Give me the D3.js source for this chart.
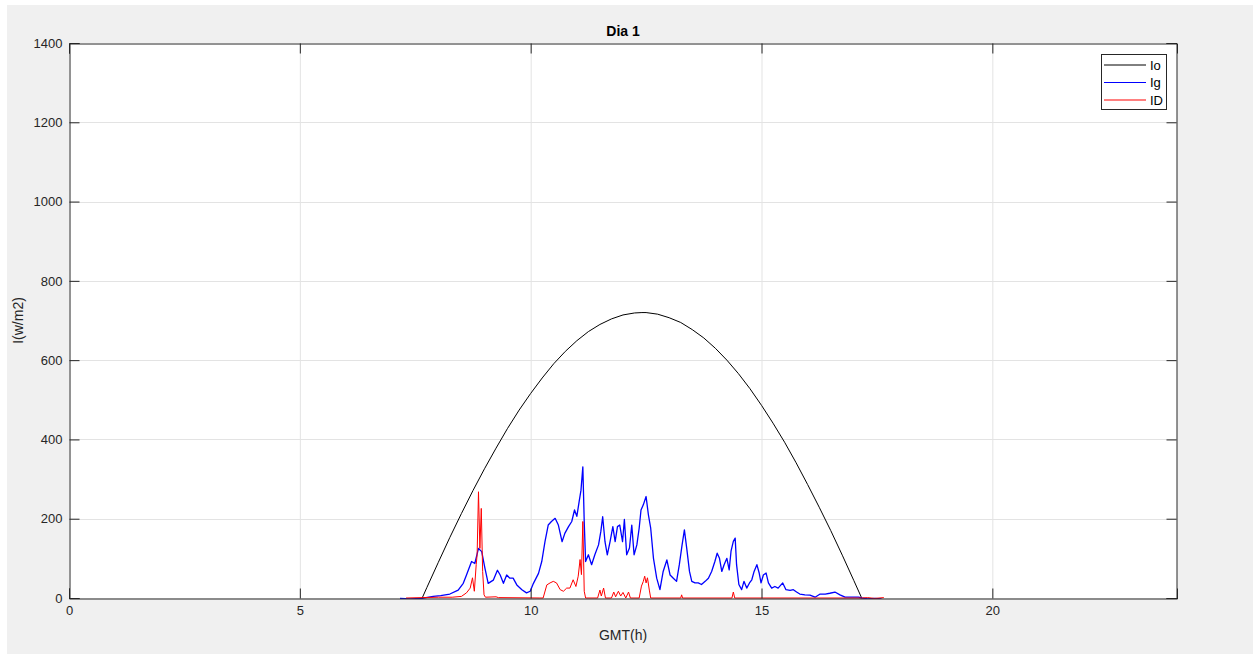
<!DOCTYPE html>
<html>
<head>
<meta charset="utf-8">
<script src="https://cdn.jsdelivr.net/npm/d3@7"></script>
<style>
  html, body { margin: 0; padding: 0; background: #ffffff; }
  svg { display: block; font-family: "Liberation Sans", Arial, Helvetica, sans-serif; }
</style>
</head>
<body>
<svg id="chart" width="1253" height="655"></svg>
<script>
// Tick values
const xTicks = [0, 5, 10, 15, 20];
const yTicks = [0, 200, 400, 600, 800, 1000, 1200, 1400];

// Extraterrestrial irradiance Io (hours GMT, W/m2)
const ioHours = [7.65, 7.75, 8.0, 8.25, 8.5, 8.75, 9.0, 9.25, 9.5, 9.75, 10.0, 10.25, 10.5, 10.75, 11.0, 11.25, 11.5, 11.75, 12.0, 12.25, 12.41, 12.5, 12.75, 13.0, 13.25, 13.5, 13.75, 14.0, 14.25, 14.5, 14.75, 15.0, 15.25, 15.5, 15.75, 16.0, 16.25, 16.5, 16.75, 17.0, 17.17];
const ioValues = [0, 26, 90, 153, 213, 271, 326, 378, 428, 474, 516, 555, 591, 622, 649, 672, 690, 704, 714, 719, 720, 720, 716, 707, 695, 677, 656, 630, 600, 566, 528, 486, 441, 393, 341, 286, 229, 170, 108, 44, 0];

// Global irradiance Ig
const igHours = [7.17, 7.40, 7.64, 7.89, 8.05, 8.25, 8.43, 8.54, 8.61, 8.72, 8.79, 8.87, 8.94, 9.01, 9.08, 9.19, 9.28, 9.34, 9.41, 9.48, 9.55, 9.62, 9.70, 9.81, 9.91, 9.99,
  10.06, 10.17, 10.24, 10.31, 10.38, 10.45, 10.53, 10.60, 10.68, 10.74, 10.82, 10.89, 10.95, 11.00, 11.05, 11.09, 11.13, 11.16, 11.19, 11.25, 11.32, 11.39, 11.47, 11.52, 11.56, 11.61, 11.66, 11.72, 11.78, 11.83, 11.88, 11.93, 11.99,
  12.03, 12.08, 12.14, 12.19, 12.24, 12.30, 12.35, 12.39, 12.44, 12.50, 12.55, 12.60, 12.66, 12.73, 12.80, 12.87, 12.95, 13.02, 13.09, 13.16, 13.22, 13.28, 13.33, 13.38, 13.44, 13.49, 13.56, 13.63, 13.70, 13.78, 13.85, 13.92, 13.99,
  14.04, 14.09, 14.14, 14.19, 14.25, 14.30, 14.34, 14.39, 14.43, 14.46, 14.51, 14.57, 14.62, 14.68, 14.74, 14.79, 14.84, 14.90, 14.95, 14.99, 15.04, 15.10, 15.15, 15.22, 15.29, 15.36, 15.46, 15.53, 15.62, 15.69, 15.76, 15.83, 15.94,
  16.05, 16.16, 16.27, 16.38, 16.48, 16.59, 16.70, 16.81, 16.95, 17.10, 17.17, 17.30, 17.45, 17.60];
const igValues = [-1, -2, -1, 4, 6, 10, 20, 37, 58, 92, 87, 125, 117, 75, 37, 45, 70, 58, 37, 58, 50, 50, 33, 21, 13, 17,
  37, 62, 92, 142, 184, 193, 201, 184, 142, 163, 180, 193, 222, 206, 243, 272, 331, 193, 92, 109, 84, 109, 134, 168, 205, 142, 109, 142, 180, 142, 180, 184, 142,
  198, 109, 126, 184, 109, 134, 176, 222, 235, 256, 210, 176, 100, 50, 21, 67, 96, 58, 50, 42, 84, 134, 172, 126, 67, 42, 38, 38, 34, 42, 50, 67, 92,
  113, 100, 67, 84, 100, 71, 118, 143, 151, 84, 34, 21, 42, 25, 38, 46, 67, 84, 63, 38, 58, 63, 38, 25, 29, 25, 38, 21, 19, 21, 15, 10, 8,
  7, 2, 10, 10, 12, 15, 8, 2, 2, 2, 0, -2, -1, -2];

// Diffuse irradiance ID
const idHours = [7.30, 7.65, 8.00, 8.30, 8.50, 8.61, 8.69, 8.74, 8.78, 8.82, 8.84, 8.87, 8.90, 8.93, 8.96, 8.99, 9.02, 9.25, 9.30,
  10.20, 10.27, 10.35, 10.42, 10.49, 10.56, 10.64, 10.71, 10.78, 10.85, 10.92, 10.98, 11.03, 11.07, 11.10, 11.13, 11.16, 11.19,
  11.45, 11.50, 11.53, 11.58, 11.62, 11.75, 11.80, 11.84, 11.90, 11.95, 12.00, 12.06, 12.12, 12.16,
  12.35, 12.40, 12.44, 12.47, 12.50, 12.53, 12.57, 12.60, 13.25, 13.27, 13.29, 14.36, 14.39, 14.42, 17.17, 17.30, 17.45, 17.65];
const idValues = [0, 1, 2, 2, 4, 13, 25, 51, 17, 84, 109, 268, 125, 226, 67, 8, 2, 3, 1,
  0, 0, 33, 38, 42, 38, 21, 17, 25, 25, 46, 29, 55, 97, 59, 193, 17, 0,
  0, 20, 5, 25, 0, 0, 15, 3, 17, 5, 14, 0, 15, 0,
  0, 30, 42, 55, 38, 51, 20, 0, 0, 8, 0, 0, 15, 0, 0, 1, -1, 1];

const seriesNames = ["Io", "Ig", "ID"];
const seriesColors = ["#000000", "#0000ff", "#ff0000"];
const seriesWidths = [1, 1.3, 1];

const svg = d3.select("#chart");
const W = 1253, H = 655;
const plot = { left: 69, right: 1177, top: 43, bottom: 598 };
const axisColor = "#262626";
const gridColor = "#e3e3e3";

// figure background
svg.append("rect").attr("x", 7).attr("y", 5).attr("width", W - 7).attr("height", 649).attr("fill", "#f0f0f0");
svg.append("rect").attr("x", plot.left).attr("y", plot.top)
  .attr("width", plot.right - plot.left).attr("height", plot.bottom - plot.top).attr("fill", "#ffffff");

const x = d3.scaleLinear().domain([0, 24]).range([plot.left, plot.right]);
const y = d3.scaleLinear().domain([0, 1400]).range([plot.bottom, plot.top]);

// grid
const grid = svg.append("g");
grid.selectAll("line.gx").data(xTicks.filter(d => d > 0)).join("line")
  .attr("x1", d => x(d) + 0.5).attr("x2", d => x(d) + 0.5)
  .attr("y1", plot.top).attr("y2", plot.bottom)
  .attr("stroke", gridColor).attr("stroke-width", 1);
grid.selectAll("line.gy").data(yTicks.filter(d => d > 0 && d < 1400)).join("line")
  .attr("y1", d => Math.round(y(d)) + 0.5).attr("y2", d => Math.round(y(d)) + 0.5)
  .attr("x1", plot.left).attr("x2", plot.right)
  .attr("stroke", gridColor).attr("stroke-width", 1);

// clip for data lines
svg.append("clipPath").attr("id", "plotClip").append("rect")
  .attr("x", plot.left).attr("y", plot.top)
  .attr("width", plot.right - plot.left).attr("height", plot.bottom - plot.top + 1);

const line = d3.line().x(d => x(d[0])).y(d => y(d[1]));
const series = [
  d3.zip(ioHours, ioValues),
  d3.zip(igHours, igValues),
  d3.zip(idHours, idValues)
];
const dataG = svg.append("g").attr("clip-path", "url(#plotClip)");
series.forEach((pts, i) => {
  dataG.append("path").datum(pts)
    .attr("d", line)
    .attr("fill", "none")
    .attr("stroke", seriesColors[i])
    .attr("stroke-width", seriesWidths[i])
    .attr("stroke-linejoin", "round");
});

// axes (ticks point inward, box on all sides)
const tickLen = 10;
const fmt = d3.format("d");
const xAxisBottom = d3.axisBottom(x).tickValues(xTicks).tickFormat(fmt).tickSize(-tickLen).tickPadding(7);
const xAxisTop = d3.axisTop(x).tickValues(xTicks).tickSize(-tickLen).tickFormat("");
const yAxisLeft = d3.axisLeft(y).tickValues(yTicks).tickFormat(fmt).tickSize(-tickLen).tickPadding(7);
const yAxisRight = d3.axisRight(y).tickValues(yTicks).tickSize(-tickLen).tickFormat("");

function styleAxis(g) {
  g.select(".domain").attr("stroke", axisColor).attr("stroke-width", 1);
  g.selectAll(".tick line").attr("stroke", axisColor).attr("stroke-width", 1);
  g.selectAll(".tick text").attr("fill", axisColor).attr("font-size", 13)
    .attr("font-family", "'Liberation Sans', Arial, sans-serif");
}
svg.append("g").attr("transform", `translate(0,${plot.bottom + 0.5})`).call(xAxisBottom).call(styleAxis);
svg.append("g").attr("transform", `translate(0,${plot.top + 0.5})`).call(xAxisTop).call(styleAxis);
svg.append("g").attr("transform", `translate(${plot.left + 0.5},0)`).call(yAxisLeft).call(styleAxis);
svg.append("g").attr("transform", `translate(${plot.right - 0.5},0)`).call(yAxisRight).call(styleAxis);

// title and axis labels
svg.append("text").attr("x", (plot.left + plot.right) / 2).attr("y", 36)
  .attr("text-anchor", "middle").attr("font-size", 14).attr("font-weight", "bold")
  .attr("fill", "#000000").text("Dia 1");
svg.append("text").attr("x", (plot.left + plot.right) / 2).attr("y", 640)
  .attr("text-anchor", "middle").attr("font-size", 14).attr("fill", axisColor).text("GMT(h)");
svg.append("text").attr("transform", `translate(23,${(plot.top + plot.bottom) / 2}) rotate(-90)`)
  .attr("text-anchor", "middle").attr("font-size", 14).attr("fill", axisColor).text("I(w/m2)");

// legend
const lg = svg.append("g").attr("transform", "translate(1101,54)");
lg.append("rect").attr("x", 0.5).attr("y", 0.5).attr("width", 65).attr("height", 55)
  .attr("fill", "#ffffff").attr("stroke", axisColor).attr("stroke-width", 1);
seriesNames.forEach((name, i) => {
  const yy = 11 + i * 17.5;
  lg.append("line").attr("x1", 3).attr("x2", 45).attr("y1", yy).attr("y2", yy)
    .attr("stroke", seriesColors[i]).attr("stroke-width", 1);
  lg.append("text").attr("x", 49).attr("y", yy + 4.5).attr("font-size", 13)
    .attr("fill", "#000000").text(name);
});
</script>
</body>
</html>
